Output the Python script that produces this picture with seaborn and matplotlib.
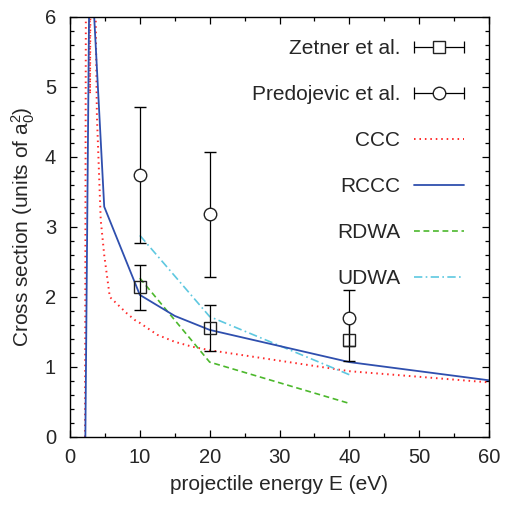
import matplotlib
matplotlib.use("Agg")
import matplotlib.pyplot as plt
from matplotlib.lines import Line2D
from matplotlib.legend_handler import HandlerLine2D, HandlerTuple
from matplotlib.ticker import MultipleLocator
import seaborn as sns
import pandas as pd

# ---- data ----
ccc_E = [2.15, 2.45, 2.87, 3.25, 3.68, 3.85, 4.4, 4.9, 5.7, 8.1, 9.3, 10, 12.5, 15, 17.5, 20, 40, 60]
ccc_Q = [0.0, 15.0, 4.9, 15.0, 6.0, 4.6, 3.1, 2.6, 2.0, 1.77, 1.67, 1.63, 1.46, 1.36, 1.29, 1.24, 0.94, 0.78]

rccc_E = [2.2, 2.83, 4.9, 10, 15, 20, 40, 60]
rccc_Q = [0.0, 7.2, 3.29, 2.03, 1.73, 1.53, 1.07, 0.81]

rdwa_E = [10, 20, 40]
rdwa_Q = [2.27, 1.07, 0.48]

udwa_E = [10, 20, 40]
udwa_Q = [2.88, 1.72, 0.89]

zetner_E = [10, 20, 40]
zetner_Q = [2.14, 1.56, 1.39]
zetner_err = [0.32, 0.33, 0.30]

pred_E = [10, 20, 40]
pred_Q = [3.74, 3.18, 1.70]
pred_err = [0.97, 0.89, 0.40]

labels = ["Zetner et al.", "Predojevic et al.", "CCC", "RCCC", "RDWA", "UDWA"]

# ---- style ----
sns.set_theme(style="ticks")
plt.rcParams["font.family"] = ["Liberation Sans", "DejaVu Sans"]
plt.rcParams["mathtext.fontset"] = "custom"
plt.rcParams["mathtext.rm"] = "Liberation Sans"
plt.rcParams["mathtext.default"] = "regular"

fig = plt.figure(figsize=(5.05, 5.05), dpi=100)
ax = fig.add_axes([70 / 505, 68 / 505, 419 / 505, 420 / 505])

c_red = "#ff2a2a"
c_blue = "#2f4fae"
c_green = "#4cb82c"
c_cyan = "#5ec8e0"

df_ccc = pd.DataFrame({"E": ccc_E, "Q": ccc_Q})
df_rccc = pd.DataFrame({"E": rccc_E, "Q": rccc_Q})
df_rdwa = pd.DataFrame({"E": rdwa_E, "Q": rdwa_Q})
df_udwa = pd.DataFrame({"E": udwa_E, "Q": udwa_Q})

sns.lineplot(data=df_ccc, x="E", y="Q", sort=False, estimator=None, ax=ax,
             color=c_red, linewidth=1.4, linestyle=(0, (0.8, 2.0)), legend=False)
sns.lineplot(data=df_rdwa, x="E", y="Q", sort=False, estimator=None, ax=ax,
             color=c_green, linewidth=1.2, linestyle=(0, (3.5, 2.2)), legend=False)
sns.lineplot(data=df_udwa, x="E", y="Q", sort=False, estimator=None, ax=ax,
             color=c_cyan, linewidth=1.2, linestyle=(0, (5, 2, 1, 2)), legend=False)
sns.lineplot(data=df_rccc, x="E", y="Q", sort=False, estimator=None, ax=ax,
             color=c_blue, linewidth=1.3, linestyle="-", legend=False)

ax.errorbar(zetner_E, zetner_Q, yerr=zetner_err, fmt="s", color="black", mfc="none",
            mec="#222222", ms=9, mew=1.0, elinewidth=0.9, capsize=4.5, capthick=0.9, zorder=5)
ax.errorbar(pred_E, pred_Q, yerr=pred_err, fmt="o", color="black", mfc="white",
            mec="#222222", ms=9, mew=1.0, elinewidth=0.9, capsize=4.5, capthick=0.9, zorder=5)

ax.set_xlim(0, 60)
ax.set_ylim(0, 6)
ax.xaxis.set_major_locator(MultipleLocator(10))
ax.xaxis.set_minor_locator(MultipleLocator(5))
ax.yaxis.set_major_locator(MultipleLocator(1))
ax.yaxis.set_minor_locator(MultipleLocator(0.2))
ax.tick_params(which="both", direction="in", top=True, right=True, color="black", width=0.9)
ax.tick_params(which="major", length=5, labelsize=14.5)
ax.tick_params(axis="x", which="major", pad=8)
ax.tick_params(axis="y", which="major", pad=10)
ax.tick_params(which="minor", length=2.7)
for s in ax.spines.values():
    s.set_color("black")
    s.set_linewidth(1.0)

ax.set_xlabel("projectile energy E (eV)", fontsize=15, labelpad=6)
ax.set_ylabel("Cross section (units of $a_0^2$)", fontsize=15, labelpad=6)

# ---- legend (gnuplot style: label left, sample right) ----
def err_handle(marker):
    caps = Line2D([], [], color="black", lw=0.9, marker="|", ms=8, mew=0.9)
    mk = Line2D([], [], ls="none", marker=marker, mfc="white", mec="#222222", ms=9, mew=1.0)
    return caps, mk

z_caps, z_mk = err_handle("s")
p_caps, p_mk = err_handle("o")
h_ccc = Line2D([], [], color=c_red, lw=1.4, ls=(0, (0.8, 2.0)))
h_rccc = Line2D([], [], color=c_blue, lw=1.3, ls="-")
h_rdwa = Line2D([], [], color=c_green, lw=1.2, ls=(0, (3.5, 2.2)))
h_udwa = Line2D([], [], color=c_cyan, lw=1.2, ls=(0, (5, 2, 1, 2)))

hmap = {
    z_caps: HandlerLine2D(numpoints=2, marker_pad=0), z_mk: HandlerLine2D(numpoints=1),
    p_caps: HandlerLine2D(numpoints=2, marker_pad=0), p_mk: HandlerLine2D(numpoints=1),
    tuple: HandlerTuple(ndivide=1, pad=0),
}
handles = [(z_caps, z_mk), (p_caps, p_mk), h_ccc, h_rccc, h_rdwa, h_udwa]
leg = ax.legend(handles, labels, handler_map=hmap, loc="upper right",
                bbox_to_anchor=(0.94, 0.948), frameon=False, markerfirst=False,
                fontsize=15, handlelength=2.4, handletextpad=0.65,
                labelspacing=1.3, borderaxespad=0, borderpad=0)

fig.savefig("out.png", dpi=100)
